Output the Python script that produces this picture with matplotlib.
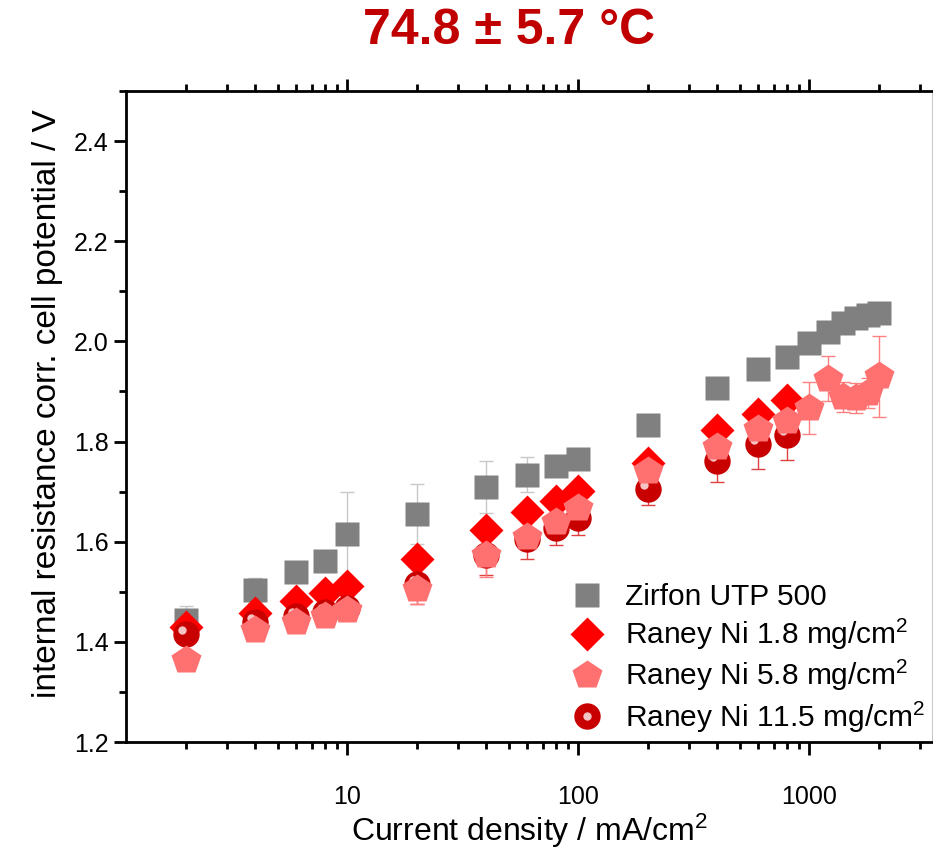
import matplotlib
matplotlib.use("Agg")
import matplotlib.pyplot as plt
from matplotlib.ticker import LogLocator, NullFormatter, FixedLocator, MultipleLocator
from matplotlib.transforms import offset_copy
from matplotlib.legend_handler import HandlerTuple

plt.rcParams["font.family"] = ["Liberation Sans", "DejaVu Sans"]
plt.rcParams["mathtext.fontset"] = "custom"
plt.rcParams["mathtext.rm"] = "Liberation Sans"
plt.rcParams["mathtext.it"] = "Liberation Sans:italic"
plt.rcParams["mathtext.bf"] = "Liberation Sans:bold"

# current densities, mA/cm2
x_all = [2, 4, 6, 8, 10, 20, 40, 60, 80, 100, 200, 400, 600, 800,
         1000, 1200, 1400, 1600, 1800, 2000]
x_short = x_all[:14]

# Zirfon UTP 500
v_zirfon = [1.444, 1.503, 1.539, 1.561, 1.615, 1.656, 1.709, 1.734, 1.752, 1.765,
            1.834, 1.906, 1.945, 1.969, 1.996, 2.019, 2.037, 2.046, 2.052, 2.056]
e_zirfon = [0.028, 0.025, 0.012, 0.012, 0.085, 0.06, 0.052, 0.035, 0.012, 0.012,
            0.012, 0.012, 0.012, 0.012, 0.01, 0.01, 0.01, 0.01, 0.01, 0.01]

# Raney Ni 1.8 mg/cm2
v_r18 = [1.429, 1.457, 1.481, 1.497, 1.512, 1.566, 1.624, 1.659, 1.681, 1.701,
         1.757, 1.824, 1.854, 1.882]
e_r18 = [0.01] * 14

# Raney Ni 5.8 mg/cm2
v_r58 = [1.364, 1.423, 1.439, 1.452, 1.464, 1.505, 1.574, 1.609, 1.640, 1.667,
         1.741, 1.790, 1.825, 1.842, 1.867, 1.925, 1.888, 1.886, 1.897, 1.930]
e_r58 = [0.01, 0.01, 0.01, 0.01, 0.01, 0.03, 0.045, 0.01, 0.012, 0.012,
         0.012, 0.012, 0.012, 0.02, 0.052, 0.045, 0.03, 0.03, 0.03, 0.08]

# Raney Ni 11.5 mg/cm2
v_r115 = [1.416, 1.440, 1.452, 1.460, 1.468, 1.515, 1.573, 1.606, 1.628, 1.648,
          1.705, 1.761, 1.795, 1.813]
e_r115 = [0.01, 0.01, 0.01, 0.01, 0.01, 0.04, 0.04, 0.04, 0.035, 0.035,
          0.032, 0.042, 0.05, 0.05]

labels = ["Zirfon UTP 500", "Raney Ni 1.8 mg/cm$^2$",
          "Raney Ni 5.8 mg/cm$^2$", "Raney Ni 11.5 mg/cm$^2$"]

fig = plt.figure(figsize=(9.33, 8.5), dpi=100)
ax = fig.add_axes([0.135, 0.127, 0.864, 0.766])

ekw = dict(fmt="none", elinewidth=1, capsize=5, capthick=1)
ax.errorbar(x_all, v_zirfon, yerr=e_zirfon, ecolor="#c8c8c8", zorder=1, **ekw)
ax.errorbar(x_short, v_r18, yerr=e_r18, ecolor="#ff6060", zorder=1, **ekw)
ax.errorbar(x_short, v_r115, yerr=e_r115, ecolor="#e04040", zorder=1, **ekw)
ax.errorbar(x_all, v_r58, yerr=e_r58, ecolor="#ff8080", zorder=1, **ekw)

h1, = ax.plot(x_all, v_zirfon, "s", ms=17, color="#808080", mec="none", zorder=3)
h2, = ax.plot(x_short, v_r18, "D", ms=17, color="#ff0000", mec="none", zorder=4)
h4, = ax.plot(x_short, v_r115, "o", ms=19, color="#c80000", mec="none", zorder=5)
hl = offset_copy(ax.transData, fig=fig, x=-3, y=3, units="points")
h4b, = ax.plot(x_short, v_r115, "o", ms=6, color="#f4c4c4", mec="none",
               zorder=5, transform=hl)
h3, = ax.plot(x_all, v_r58, "p", ms=22, color="#ff7070", mec="none", zorder=6)

ax.set_xscale("log")
ax.set_xlim(1.1, 3400)
ax.set_ylim(1.2, 2.5)

ax.xaxis.set_major_locator(FixedLocator([10, 100, 1000]))
ax.set_xticklabels(["10", "100", "1000"])
ax.xaxis.set_minor_locator(LogLocator(base=10, subs=range(2, 10)))
ax.xaxis.set_minor_formatter(NullFormatter())
ax.yaxis.set_minor_locator(MultipleLocator(0.1))
ax.set_yticks([1.2, 1.4, 1.6, 1.8, 2.0, 2.2, 2.4])

ax.tick_params(axis="x", which="both", direction="out", top=True, bottom=True,
               labelsize=18, width=2)
ax.tick_params(axis="x", which="major", pad=22)
ax.tick_params(axis="y", which="both", direction="out", left=True, right=False,
               labelsize=18, width=2)
ax.tick_params(which="major", length=9)
ax.tick_params(which="minor", length=5)

for s in ["left", "top", "bottom"]:
    ax.spines[s].set_linewidth(2)
ax.spines["right"].set_linewidth(0.8)
ax.spines["right"].set_color("#c8c8c8")

ax.set_xlabel("Current density / mA/cm$^2$", fontsize=23, labelpad=2)
ax.set_ylabel("internal resistance corr. cell potential / V", fontsize=24)
ax.yaxis.set_label_coords(-0.078, 0.52)
fig.text(0.546, 0.963, "74.8 \u00b1 5.7 \u00b0C", ha="center", va="center",
         fontsize=36, fontweight="bold", color="#c00000")

leg = ax.legend([h1, h2, h3, (h4, h4b)], labels,
                handler_map={tuple: HandlerTuple(ndivide=1, pad=0)},
                loc="lower right", bbox_to_anchor=(1.0, 0.0), frameon=False,
                fontsize=21.5, handlelength=1.0, handletextpad=0.75,
                labelspacing=0.2, borderpad=0.15, borderaxespad=0.1)

fig.savefig("out.png", dpi=100)
